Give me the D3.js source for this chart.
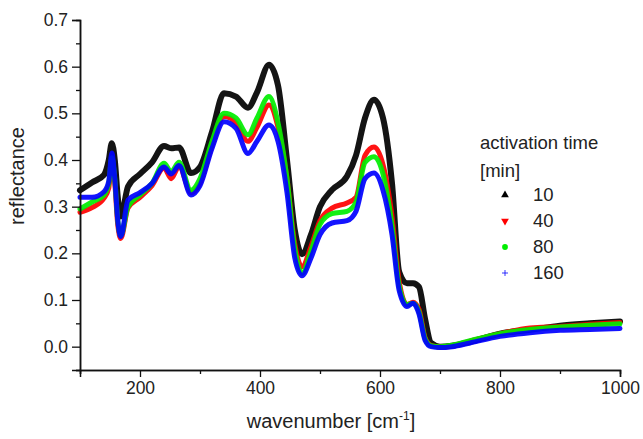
<!DOCTYPE html>
<html>
<head>
<meta charset="utf-8">
<script src="https://cdn.jsdelivr.net/npm/d3@7"></script>
<style>
  body { margin: 0; background: #fff; }
  text { font-family: "Liberation Sans", Arial, sans-serif; fill: #222; }
</style>
</head>
<body>
<div id="chart"></div>
<script>
var width = 643,
  height = 439;

// wavenumber grid [cm-1]
var wavenumber = [100, 120, 140, 148, 153, 158, 163, 168, 180, 200, 220, 240, 252, 265, 285, 300, 320, 340, 360, 380, 395, 415, 430, 445, 458, 470, 485, 500, 520, 545, 560, 575, 590, 605, 620, 632, 645, 655, 665, 675, 685, 700, 720, 750, 800, 850, 900, 950, 1000];

// reflectance per activation time
var min10 = [0.335, 0.352, 0.368, 0.40, 0.436, 0.40, 0.32, 0.279, 0.343, 0.37, 0.395, 0.43, 0.425, 0.427, 0.372, 0.385, 0.46, 0.543, 0.536, 0.512, 0.545, 0.604, 0.56, 0.40, 0.25, 0.198, 0.24, 0.30, 0.336, 0.365, 0.41, 0.49, 0.529, 0.49, 0.35, 0.16, 0.136, 0.136, 0.128, 0.06, 0.008, 0.0, 0.002, 0.01, 0.028, 0.036, 0.045, 0.05, 0.054];
var min40 = [0.288, 0.298, 0.318, 0.34, 0.40, 0.35, 0.26, 0.232, 0.297, 0.32, 0.345, 0.383, 0.36, 0.386, 0.33, 0.35, 0.43, 0.493, 0.48, 0.44, 0.47, 0.518, 0.47, 0.36, 0.22, 0.171, 0.215, 0.27, 0.297, 0.308, 0.32, 0.41, 0.428, 0.39, 0.28, 0.14, 0.09, 0.095, 0.08, 0.02, 0.003, 0.0, 0.002, 0.012, 0.028, 0.04, 0.043, 0.048, 0.052];
var min80 = [0.295, 0.31, 0.325, 0.35, 0.405, 0.36, 0.27, 0.238, 0.30, 0.325, 0.35, 0.393, 0.375, 0.395, 0.335, 0.36, 0.44, 0.50, 0.49, 0.454, 0.49, 0.536, 0.48, 0.36, 0.21, 0.157, 0.205, 0.262, 0.285, 0.29, 0.31, 0.395, 0.407, 0.37, 0.26, 0.13, 0.09, 0.093, 0.075, 0.018, 0.002, 0.0, 0.003, 0.013, 0.028, 0.037, 0.042, 0.046, 0.049];
var min160 = [0.32, 0.32, 0.332, 0.355, 0.415, 0.36, 0.27, 0.236, 0.314, 0.33, 0.35, 0.385, 0.37, 0.388, 0.325, 0.345, 0.425, 0.482, 0.468, 0.414, 0.44, 0.475, 0.44, 0.33, 0.19, 0.152, 0.19, 0.24, 0.265, 0.27, 0.29, 0.36, 0.372, 0.335, 0.24, 0.12, 0.086, 0.093, 0.07, 0.014, 0.0, -0.002, 0.0, 0.008, 0.022, 0.03, 0.035, 0.037, 0.039];

var legendLabels = ["10", "40", "80", "160"];
var seriesColors = ["#000000", "#ff0000", "#00ee00", "#0000ff"];
var xTicks = [200, 400, 600, 800, 1000];
var yTicks = [0.0, 0.1, 0.2, 0.3, 0.4, 0.5, 0.6, 0.7];

var series = [min10, min40, min80, min160];

var svg = d3.select("#chart").append("svg")
  .attr("width", width)
  .attr("height", height);

var x = d3.scaleLinear().domain([100, 1000]).range([80, 620]);
var y = d3.scaleLinear().domain([-0.05, 0.7]).range([370, 20]);

// curves
var line = d3.line()
  .x(function (d) { return x(d[0]); })
  .y(function (d) { return y(d[1]); })
  .curve(d3.curveMonotoneX);

series.forEach(function (s, i) {
  var pts = wavenumber.map(function (w, j) { return [w, s[j]]; });
  svg.append("path")
    .attr("d", line(pts))
    .attr("fill", "none")
    .attr("stroke", seriesColors[i])
    .attr("stroke-width", i === 0 ? 6 : 5)
    .attr("stroke-linejoin", "round")
    .attr("stroke-linecap", "round")
    .attr("stroke-opacity", 0.92);
});

// axes
svg.append("g")
  .attr("transform", "translate(0,370)")
  .call(d3.axisBottom(x).tickValues(xTicks).tickSize(7).tickPadding(5).tickFormat(d3.format("d")));
svg.append("g")
  .attr("transform", "translate(0,370)")
  .call(d3.axisBottom(x).tickValues([100, 300, 500, 700, 900]).tickSize(4).tickFormat(""));

svg.append("g")
  .attr("transform", "translate(80,0)")
  .call(d3.axisLeft(y).tickValues(yTicks).tickSize(8).tickPadding(4).tickFormat(d3.format(".1f")));
svg.append("g")
  .attr("transform", "translate(80,0)")
  .call(d3.axisLeft(y).tickValues([-0.05, 0.05, 0.15, 0.25, 0.35, 0.45, 0.55, 0.65]).tickSize(4).tickFormat(""));

svg.selectAll(".domain").attr("stroke", "#111").attr("stroke-width", 1.5);
svg.selectAll(".tick line").attr("stroke", "#111").attr("stroke-width", 1.3);
svg.selectAll(".tick text").style("font-size", "17.5px").attr("fill", "#222");

// axis titles
svg.append("text")
  .attr("transform", "translate(24,176) rotate(-90)")
  .attr("text-anchor", "middle")
  .style("font-size", "20px")
  .text("reflectance");

var xt = svg.append("text")
  .attr("x", 331)
  .attr("y", 428)
  .attr("text-anchor", "middle")
  .style("font-size", "20px");
xt.append("tspan").text("wavenumber [cm");
xt.append("tspan").attr("dy", -8).style("font-size", "12px").text("-1");
xt.append("tspan").attr("dy", 8).text("]");

// legend
var legend = svg.append("g");
legend.append("text").attr("x", 480).attr("y", 149).style("font-size", "18.5px").text("activation time");
legend.append("text").attr("x", 480).attr("y", 177).style("font-size", "18.5px").text("[min]");

var symbols = [d3.symbolTriangle, d3.symbolTriangle, d3.symbolCircle];
legendLabels.forEach(function (lab, i) {
  var cy = 195 + i * 26;
  var sym = legend.append("path");
  if (i === 3) {
    sym.attr("d", "M-3,0H3M0,-3V3")
      .attr("fill", "none").attr("stroke", seriesColors[i]).attr("stroke-width", 0.8);
  } else {
    sym.attr("d", d3.symbol().type(symbols[i]).size(26)())
      .attr("fill", seriesColors[i]);
  }
  sym.attr("transform", "translate(505," + cy + ")" + (i === 1 ? " rotate(180)" : ""));
  legend.append("text")
    .attr("x", 533)
    .attr("y", cy + 6)
    .style("font-size", "18.5px")
    .text(lab);
});
</script>
</body>
</html>
